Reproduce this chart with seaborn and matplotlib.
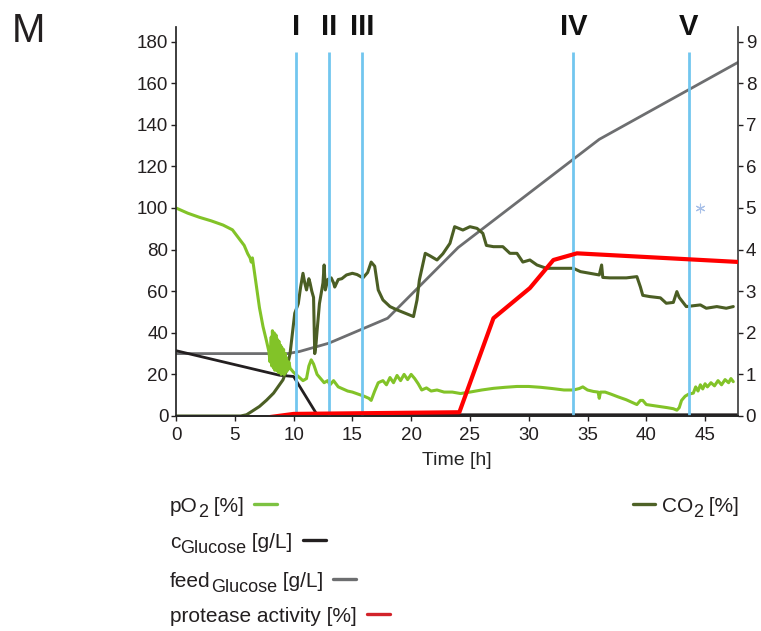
"""
Fermentation time course: pO2, CO2, glucose, feed and protease activity.
"""
import matplotlib
matplotlib.use('Agg')
import matplotlib.pyplot as plt
from matplotlib.lines import Line2D
import seaborn as sns

W, H = 761, 631

# pO2 [%] (left axis)
po2_time = [0, 1, 2, 3, 4, 4.8, 5.4, 5.8, 6.1, 6.3, 6.4, 6.5, 6.6, 6.8, 7.1, 7.4, 7.7, 7.9,
            8.0, 8.1, 8.15, 8.2, 8.3, 8.35, 8.4, 8.5, 8.55, 8.6, 8.7, 8.75, 8.8, 8.9, 8.95,
            9.0, 9.1, 9.15, 9.2, 9.3, 9.35, 9.4, 9.5, 9.6, 9.7, 10.0, 10.4, 10.8, 11.1, 11.3,
            11.5, 11.7, 12.0, 12.3, 12.6, 12.9, 13.1, 13.4, 13.8, 14.2, 14.6, 15.0, 15.5,
            16.0, 16.4, 16.6, 16.9, 17.2, 17.6, 17.9, 18.2, 18.5, 18.8, 19.1, 19.4, 19.7,
            20.0, 20.3, 20.6, 20.9, 21.3, 21.7, 22.2, 22.8, 23.5, 24.2, 25.0, 26.0, 27.0,
            28.0, 29.0, 30.0, 31.0, 32.0, 33.0, 33.8, 34.3, 34.6, 35.0, 35.5, 35.9, 36.0,
            36.1, 36.5, 37.0, 37.6, 38.3, 38.8, 39.2, 39.5, 39.7, 40.0, 40.6, 41.2, 41.8,
            42.3, 42.6, 42.8, 43.0, 43.3, 43.6, 44.0, 44.2, 44.4, 44.6, 44.8, 45.0, 45.2,
            45.5, 45.8, 46.1, 46.4, 46.7, 47.0, 47.2, 47.4]
po2_value = [100, 97.5, 95.5, 93.8, 91.8, 89.5, 85, 82, 78, 76, 74, 76, 72, 64, 52, 43, 36, 31,
             26, 38, 24, 41, 23, 40, 22, 39, 22, 37, 21, 36, 21, 34, 20,
             33, 21, 32, 20, 30, 21, 28, 22, 26, 23, 21, 19, 17, 18, 24,
             27, 25, 20, 18, 16, 17, 15, 17, 14, 13, 12, 11.5, 10.5,
             9.5, 8.5, 7.5, 12, 16, 17, 15, 18.5, 16, 19.5, 17, 20, 17.5,
             20, 18, 15.5, 12.5, 13.5, 12, 12.5, 11.5, 11.5, 10.8, 11.5, 12.5, 13.3,
             13.8, 14.2, 14.2, 13.8, 13.2, 12.5, 12.5, 13.2, 14, 12.5, 11.8, 11.5, 8.5,
             11.5, 11.5, 10.5, 9.2, 7.8, 6.5, 5.5, 7.5, 7.5, 5.5, 5, 4.5, 4,
             3.5, 2.8, 4, 7.5, 9.5, 10.5, 11, 14, 12, 15, 13, 15.5, 14,
             16, 14.5, 17, 15, 17.5, 16, 18, 16.5]

# CO2 [%] (right axis)
co2_time = [0, 5.5, 6.0, 6.5, 7.1, 7.7, 8.3, 8.8, 9.1, 9.4, 9.7, 10.1, 10.4, 10.6, 10.8, 10.95,
            11.1, 11.3, 11.4, 11.55, 11.7, 11.8, 11.9, 12.0, 12.2, 12.4, 12.5, 12.6, 12.7,
            12.8, 12.9, 13.2, 13.4, 13.5, 13.8, 14.1, 14.5, 15.0, 15.4, 15.9, 16.3, 16.6,
            16.9, 17.2, 17.6, 18.2, 18.8, 19.5, 20.2, 20.5, 20.7, 21.2, 21.6, 22.2, 22.7,
            23.3, 23.7, 24.4, 25.0, 25.6, 26.1, 26.4, 27.0, 27.8, 28.4, 29.0, 29.5, 30.1,
            30.7, 31.5, 32.4, 33.2, 33.8, 34.4, 35.2, 36.0, 36.2, 36.3, 36.9, 38.3, 39.2,
            39.5, 39.7, 40.3, 41.2, 41.7, 42.3, 42.6, 42.8, 43.4, 44.6, 45.1, 46.0, 46.8, 47.4]
co2_value = [0, 0, 0.03, 0.12, 0.23, 0.38, 0.55, 0.75, 0.87, 1.1, 1.5, 2.47, 2.7, 3.1, 3.43, 3.2,
             3.03, 3.3, 3.2, 3.0, 2.85, 1.5, 1.7, 2.05, 2.7, 3.03, 3.2, 3.63, 3.03,
             3.15, 3.28, 3.32, 3.2, 3.1, 3.28, 3.3, 3.39, 3.43, 3.4, 3.32, 3.45, 3.7,
             3.6, 3.03, 2.79, 2.63, 2.55, 2.47, 2.39, 2.79, 3.27, 3.91, 3.85, 3.75, 3.9,
             4.15, 4.55, 4.47, 4.55, 4.51, 4.39, 4.1, 4.07, 4.07, 3.91, 3.91, 3.7, 3.75,
             3.63, 3.55, 3.55, 3.55, 3.55, 3.47, 3.43, 3.39, 3.63, 3.33, 3.32, 3.32, 3.35,
             3.1, 2.9, 2.87, 2.84, 2.71, 2.73, 2.99, 2.85, 2.63, 2.67, 2.59, 2.63, 2.59, 2.63]

# glucose concentration [g/L] (right axis)
glc_time = [0, 8.8, 10.0, 12.0, 47.8]
glc_value = [1.57, 0.98, 0.95, 0.03, 0.03]

# glucose feed [g/L] (right axis)
feed_time = [0, 9.5, 10.5, 13.0, 18.0, 24.0, 36.0, 47.8]
feed_value = [1.5, 1.5, 1.55, 1.75, 2.35, 4.05, 6.65, 8.5]

# protease activity [%] (left axis)
prot_time = [8.0, 10.0, 24.1, 27.0, 30.1, 32.1, 34.1, 48.0]
prot_value = [-0.5, 1.0, 1.8, 47, 61.5, 75, 78.2, 74]

# process phases
phase_time = [10.2, 13.0, 15.8, 33.8, 43.6]
phase_label = ['I', 'II', 'III', 'IV', 'V']

# stray marker
star_time = [44.6]
star_value = [5.0]

C_PO2 = '#82c328'
C_CO2 = '#4b5e24'
C_GLC = '#231f20'
C_FEED = '#6d6e70'
C_PROT = '#ff0000'
C_PHASE = '#72c6ef'

sns.set_theme(style='ticks')
plt.rcParams['font.family'] = ['Liberation Sans', 'DejaVu Sans']
plt.rcParams['text.color'] = '#231f20'

fig = plt.figure(figsize=(W / 100, H / 100), dpi=100)
ax = fig.add_axes([176 / W, 1 - 416 / H, (738 - 176) / W, (416 - 27) / H])
ax2 = ax.twinx()

# right-axis series
sns.lineplot(x=feed_time, y=feed_value, ax=ax2, color=C_FEED, lw=2, estimator=None)
sns.lineplot(x=glc_time, y=glc_value, ax=ax2, color=C_GLC, lw=2, estimator=None)
sns.lineplot(x=co2_time, y=co2_value, ax=ax2, color=C_CO2, lw=2.2, estimator=None)
ax2.scatter(star_time, star_value, marker=(6, 2, 0), s=40, color='#a8c0e8', lw=0.8)

# left-axis series
sns.lineplot(x=po2_time, y=po2_value, ax=ax, color=C_PO2, lw=2.2, estimator=None)
ax.vlines(phase_time, 0, 175, color=C_PHASE, lw=2)
sns.lineplot(x=prot_time, y=prot_value, ax=ax, color=C_PROT, lw=3, estimator=None)
for t, lab in zip(phase_time, phase_label):
    ax.text(t, 183.2, lab, ha='center', va='baseline', fontsize=21, fontweight='bold',
            color='#111111', clip_on=False)

ax.set_zorder(ax2.get_zorder() + 1)
ax.patch.set_visible(False)

ax.set_xlim(0, 47.8)
ax.set_ylim(0, 187)
ax2.set_ylim(0, 9.35)
ax.set_xticks(range(0, 50, 5))
ax.set_yticks(range(0, 200, 20))
ax2.set_yticks(range(0, 10))
for a in (ax, ax2):
    a.tick_params(labelsize=13.5, length=3.5, width=1, colors='#231f20', pad=2)
    a.spines['top'].set_visible(False)
    a.set_ylabel('')
ax.tick_params(axis='x', pad=4.5)
ax.spines['right'].set_visible(False)
ax2.spines['left'].set_visible(False)
ax2.spines['right'].set_color('#404040')
ax.set_xlabel('Time [h]', fontsize=14, labelpad=6)

fig.text(12 / W, 1 - 42 / H, 'M', fontsize=29, va='baseline', ha='left')

# legend below the plot: text pieces (with subscripts) followed by a short swatch
renderer = fig.canvas.get_renderer()


def legend_entry(x_px, base_px, pieces, color, swatch_first=False):
    x = x_px
    if swatch_first:
        fig.add_artist(Line2D([x / W, (x + 22) / W], [1 - (base_px - 8.5) / H] * 2,
                              transform=fig.transFigure, color=color, lw=2.4))
        x += 29
    for s, size, dy, shift in pieces:
        t = fig.text(x / W, 1 - (base_px + dy) / H, s, fontsize=size,
                     va='baseline', ha='left')
        x = t.get_window_extent(renderer=renderer).x1 + shift
    if not swatch_first:
        fig.add_artist(Line2D([(x + 10) / W, (x + 33) / W], [1 - (base_px - 8.5) / H] * 2,
                              transform=fig.transFigure, color=color, lw=2.4))


LEG = 15
SUB = 13
legend_entry(170, 512, [('pO', LEG, 0, 0), ('2', SUB, 5, 0), (' [%]', LEG, 0, 0)],
             '#7dc242')
legend_entry(170, 548, [('c', LEG, 0, 0), ('Glucose', SUB, 5, 0), (' [g/L]', LEG, 0, 0)],
             C_GLC)
legend_entry(170, 587, [('feed', LEG, 0, 0), ('Glucose', SUB, 5, 0), (' [g/L]', LEG, 0, 0)],
             C_FEED)
legend_entry(170, 622, [('protease activity [%]', LEG, 0, 0)], '#d2232a')
legend_entry(633, 512, [('CO', LEG, 0, 0), ('2', SUB, 5, 0), (' [%]', LEG, 0, 0)],
             '#4e6227', swatch_first=True)

fig.savefig('out.png', dpi=100)
plt.close(fig)
